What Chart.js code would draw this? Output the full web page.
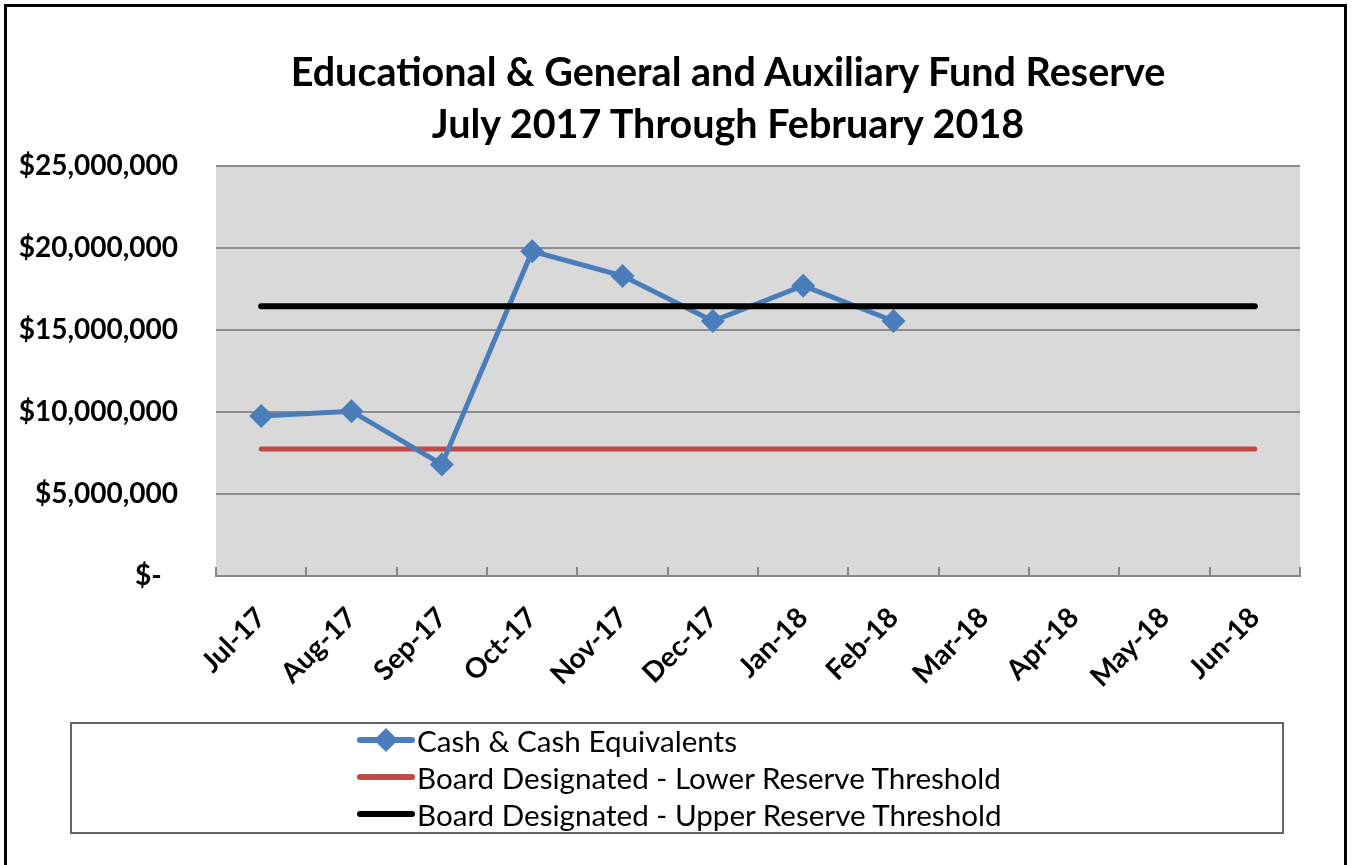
<!DOCTYPE html>
<html>
<head>
<meta charset="utf-8">
<script src="https://cdn.jsdelivr.net/npm/chart.js@4"></script>
<style>
  body { margin: 0; background: #fff; }
  #wrap { position: relative; width: 1352px; height: 865px; overflow: hidden; }
  #frame { position: absolute; left: 4px; top: 4px; width: 1343px; height: 880px; border: 3px solid #000; box-sizing: border-box; }
  #chart { position: absolute; left: 0; top: 0; }
  #title { position: absolute; left: 228px; width: 1000px; top: 45px; text-align: center;
           font-family: Lato, sans-serif; font-weight: bold; font-size: 39.5px; line-height: 52px; color: #000; }
  #legend { position: absolute; left: 70px; top: 722px; width: 1214px; height: 112px; border: 2px solid #666; box-sizing: border-box; background: #fff;
            font-family: Lato, sans-serif; font-size: 29.6px; color: #000; }
  .item { position: absolute; left: 285px; height: 36px; display: flex; align-items: center; }
  .item svg { margin-right: 2px; }
</style>
</head>
<body>
<div id="wrap">
  <canvas id="chart" width="1352" height="865"></canvas>
  <div id="title"></div>
  <div id="frame"></div>
  <div id="legend"></div>
</div>
<script>
'use strict';
var months = ['Jul-17', 'Aug-17', 'Sep-17', 'Oct-17', 'Nov-17', 'Dec-17', 'Jan-18', 'Feb-18', 'Mar-18', 'Apr-18', 'May-18', 'Jun-18'];
var cashValues = [9750000, 10050000, 6800000, 19800000, 18300000, 15550000, 17700000, 15550000, null, null, null, null];
var lowerThreshold = [7750000, 7750000, 7750000, 7750000, 7750000, 7750000, 7750000, 7750000, 7750000, 7750000, 7750000, 7750000];
var upperThreshold = [16450000, 16450000, 16450000, 16450000, 16450000, 16450000, 16450000, 16450000, 16450000, 16450000, 16450000, 16450000];
var yTicks = [0, 5000000, 10000000, 15000000, 20000000, 25000000];
var titleLines = ['Educational & General and Auxiliary Fund Reserve', 'July 2017 Through February 2018'];
var seriesNames = ['Cash & Cash Equivalents', 'Board Designated - Lower Reserve Threshold', 'Board Designated - Upper Reserve Threshold'];
var seriesColors = ['#4a7ebb', '#be4b48', '#000000'];

function money(v) {
  if (v === 0) return '$-\u2007';
  return '$' + v.toLocaleString('en-US');
}

var plotBg = {
  id: 'plotBg',
  beforeDraw: function(chart) {
    var a = chart.chartArea;
    var ctx = chart.ctx;
    ctx.save();
    ctx.fillStyle = '#d9d9d9';
    ctx.fillRect(a.left, a.top, a.right - a.left, a.bottom - a.top);
    ctx.restore();
  }
};

function insertTitle() {
  var t = document.getElementById('title');
  for (var i = 0; i < titleLines.length; i++) {
    var line = document.createElement('div');
    line.textContent = titleLines[i];
    t.appendChild(line);
  }
}

function buildLegend() {
  var box = document.getElementById('legend');
  var tops = [-2, 35, 72];
  for (var i = 0; i < seriesNames.length; i++) {
    var row = document.createElement('div');
    row.className = 'item';
    row.style.top = tops[i] + 'px';
    var svg = '<svg width="58" height="30" viewBox="0 0 58 30">' +
      '<line x1="3" y1="15" x2="55" y2="15" stroke="' + seriesColors[i] + '" stroke-width="6" stroke-linecap="round"/>';
    if (i === 0) svg += '<polygon points="29,3 41,15 29,27 17,15" fill="' + seriesColors[i] + '"/>';
    svg += '</svg>';
    row.innerHTML = svg + '<span>' + seriesNames[i] + '</span>';
    box.appendChild(row);
  }
}

function insertChart() {
  var ctx = document.getElementById('chart');
  new Chart(ctx, {
    type: 'line',
    data: {
      labels: months,
      datasets: [{
        label: seriesNames[0],
        data: cashValues,
        borderColor: seriesColors[0],
        backgroundColor: seriesColors[0],
        borderWidth: 5,
        pointStyle: 'rectRot',
        pointRadius: 12,
        pointBorderWidth: 0,
        tension: 0,
        order: 1
      }, {
        label: seriesNames[1],
        data: lowerThreshold,
        borderColor: seriesColors[1],
        borderWidth: 5,
        borderCapStyle: 'round',
        pointRadius: 0,
        order: 2
      }, {
        label: seriesNames[2],
        data: upperThreshold,
        borderColor: seriesColors[2],
        borderWidth: 6,
        borderCapStyle: 'round',
        pointRadius: 0,
        order: 0
      }]
    },
    options: {
      responsive: false,
      animation: false,
      layout: { padding: { left: 0, right: 52, top: 166, bottom: 0 } },
      plugins: {
        legend: { display: false },
        tooltip: { enabled: false },
        title: { display: false }
      },
      scales: {
        x: {
          offset: true,
          afterFit: function(s) { s.height = 289; },
          grid: { display: true, offset: true, drawOnChartArea: false, drawTicks: true, tickLength: -9, color: '#888', lineWidth: 2 },
          border: { display: true, color: '#888', width: 2 },
          ticks: {
            color: '#000', maxRotation: 45, minRotation: 45, padding: 34, autoSkip: false,
            font: { family: 'Lato', size: 28, weight: 'bold' }
          }
        },
        y: {
          min: 0,
          max: 25000000,
          afterFit: function(s) { s.width = 216; },
          afterBuildTicks: function(s) { s.ticks = yTicks.map(function(v) { return { value: v }; }); },
          grid: { color: '#8c8c8c', lineWidth: 2, drawTicks: false },
          border: { display: false },
          ticks: {
            color: '#000', padding: 38,
            font: { family: 'Lato', size: 28, weight: 'bold' },
            callback: function(v) { return money(v); }
          }
        }
      }
    },
    plugins: [plotBg]
  });
}

insertTitle();
buildLegend();
insertChart();
</script>
</body>
</html>
